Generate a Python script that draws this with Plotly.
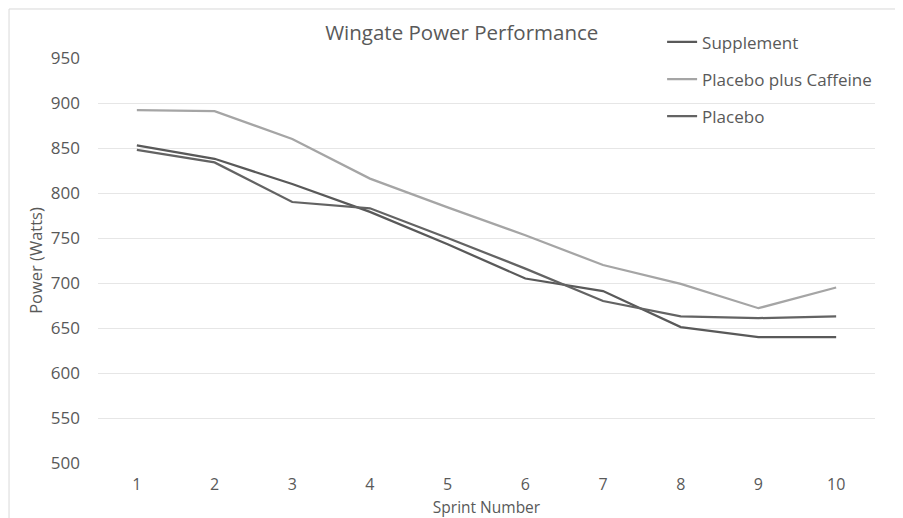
import plotly.graph_objects as go

sprints = [1, 2, 3, 4, 5, 6, 7, 8, 9, 10]
supplement = [853, 838, 810, 779, 743, 705, 691, 651, 640, 640]
placebo_caffeine = [892, 891, 860, 816, 784, 753, 720, 699, 672, 695]
placebo = [848, 834, 790, 783, 750, 716, 680, 663, 661, 663]
y_ticks = [500, 550, 600, 650, 700, 750, 800, 850, 900, 950]

FONT = "Open Sans"
TXT = "#595959"

fig = go.Figure()
series = [
    ("Supplement", supplement, "#595959"),
    ("Placebo plus Caffeine", placebo_caffeine, "#A5A5A5"),
    ("Placebo", placebo, "#636363"),
]
for i, (name, vals, col) in enumerate(series):
    fig.add_trace(go.Scatter(
        x=sprints, y=vals, name=name, mode="lines",
        line=dict(color=col, width=2.25),
        legendgroup=f"g{i}",
    ))

fig.update_layout(
    width=895, height=510,
    margin=dict(l=90, r=28, t=50, b=55),
    paper_bgcolor="white", plot_bgcolor="white",
    font=dict(family=FONT, color=TXT, size=16),
    title=dict(text="Wingate Power Performance", x=0.507, xanchor="center",
               y=0.951, yanchor="middle", font=dict(size=20.5, color=TXT, family=FONT)),
    legend=dict(x=0.726, xanchor="left", y=1.083, yanchor="top",
                bgcolor="rgba(0,0,0,0)", font=dict(size=17, color=TXT, family=FONT),
                traceorder="grouped", tracegroupgap=12, itemwidth=30),
    xaxis=dict(range=[0.5, 10.5], tickmode="array", tickvals=sprints,
               ticktext=[str(s) for s in sprints], showgrid=False, zeroline=False,
               showline=False, ticks="", ticklabelstandoff=10, automargin=False,
               tickfont=dict(size=16, color=TXT, family=FONT),
               title=dict(text="Sprint Number", standoff=11,
                          font=dict(size=15.5, color=TXT, family=FONT))),
    yaxis=dict(range=[500, 950], tickmode="array", tickvals=y_ticks,
               showgrid=True, gridcolor="#E6E6E6", gridwidth=1, zeroline=False,
               showline=False, ticks="", ticklabelstandoff=17, automargin=False,
               tickfont=dict(size=17, color=TXT, family=FONT),
               title=dict(text="Power (Watts)", standoff=4,
                          font=dict(size=16.5, color=TXT, family=FONT))),
    shapes=[dict(type="rect", xref="paper", yref="paper",
                 x0=-0.1145, x1=1.2, y0=-0.3, y1=1.121,
                 line=dict(color="#D9D9D9", width=1), layer="below")],
)

fig.write_html("out.html")
